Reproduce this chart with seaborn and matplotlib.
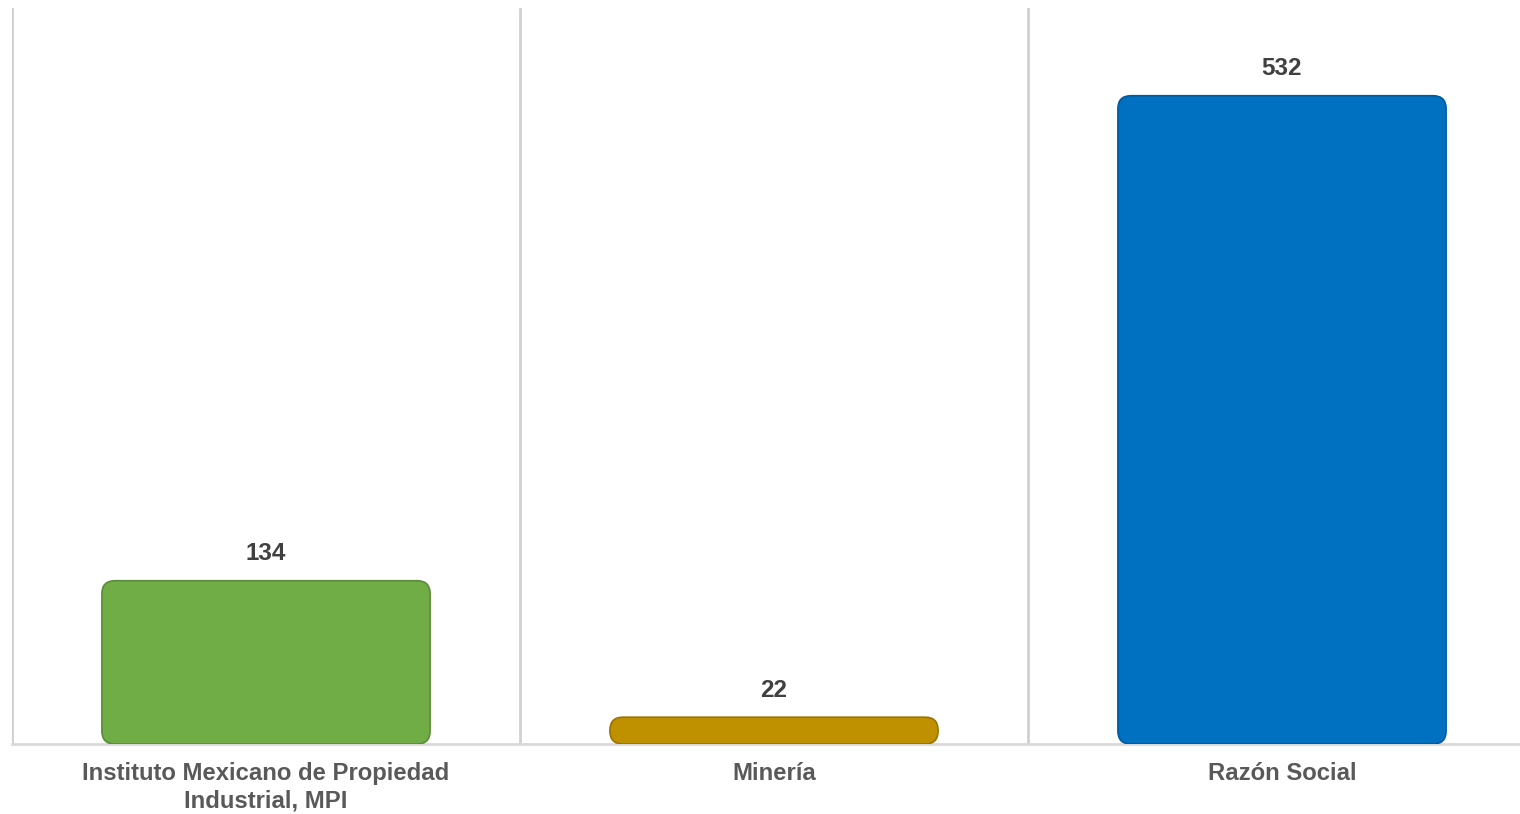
import matplotlib
matplotlib.use("Agg")
import matplotlib.pyplot as plt
import seaborn as sns
import pandas as pd
from matplotlib.patches import FancyBboxPatch

categories = ["Instituto Mexicano de Propiedad\nIndustrial, MPI", "Minería", "Razón Social"]
values = [134, 22, 532]
colors = ["#70AD47", "#BF9000", "#0070C0"]
edge_colors = ["#5A8C39", "#9A7400", "#005A9E"]

sns.set_theme(style="white")
plt.rcParams['font.family'] = ['Liberation Sans', 'DejaVu Sans']

W, H = 1520, 814
fig = plt.figure(figsize=(W / 100, H / 100), dpi=100)
ax_left_px, ax_right_px, ax_top_px, ax_bot_px = 12, 1536, 8, 744
ax = fig.add_axes([ax_left_px / W, 1 - ax_bot_px / H,
                   (ax_right_px - ax_left_px) / W, (ax_bot_px - ax_top_px) / H])

df = pd.DataFrame({"cat": categories, "val": values})
sns.barplot(data=df, x="cat", y="val", hue="cat", palette=colors, legend=False,
            width=0.646, ax=ax)
ymax = 604
ax.set_ylim(0, ymax)
ax.set_xlim(-0.5, 2.5)

# replace bars with rounded boxes
px_x = (ax_right_px - ax_left_px) / 3.0
px_y = (ax_bot_px - ax_top_px) / ymax
r_px = 13
aspect = px_x / px_y
bars = list(ax.patches)
for i, b in enumerate(bars):
    x0, y0, w, h = b.get_x(), b.get_y(), b.get_width(), b.get_height()
    fb = FancyBboxPatch((x0, y0), w, h,
                        boxstyle=f"round,pad=0,rounding_size={r_px / px_x}",
                        mutation_aspect=aspect,
                        facecolor=colors[i], edgecolor=edge_colors[i], linewidth=1.2,
                        zorder=3)
    ax.add_patch(fb)
    b.set_visible(False)
    ax.text(x0 + w / 2, h + 27 / px_y, f"{values[i]}",
            ha="center", va="center", fontsize=17.5, fontweight="bold", color="#404040")

# category separators
ax.set_xticks([-0.5, 0.5, 1.5, 2.5], minor=True)
ax.grid(True, which="minor", axis="x", color="#D0D0D0", linewidth=2)
ax.grid(False, which="major")
ax.set_yticks([])
ax.set_xlabel("")
ax.set_ylabel("")
ax.tick_params(axis="x", which="both", length=0, pad=13)
for lab in ax.get_xticklabels():
    lab.set_fontsize(17.2)
    lab.set_fontweight("bold")
    lab.set_color("#595959")
    lab.set_linespacing(1.22)
    lab.set_va("top")

for s in ["top", "right", "left"]:
    ax.spines[s].set_visible(False)
ax.spines["bottom"].set_color("#D9D9D9")
ax.spines["bottom"].set_linewidth(2)

fig.savefig("out.png", dpi=100, facecolor="white")
